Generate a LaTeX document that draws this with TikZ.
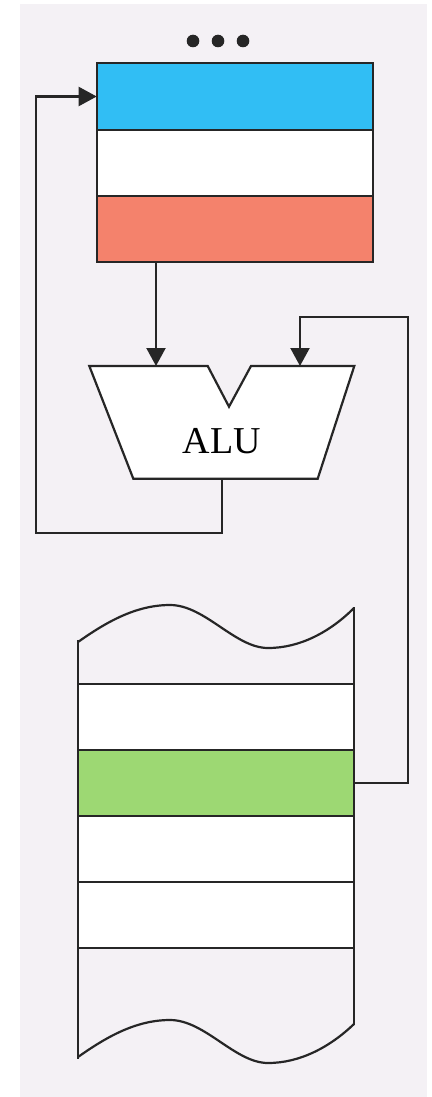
\documentclass[tikz,border=0pt]{standalone}
\usepackage{fontspec}
\setmainfont{Liberation Serif}
\usetikzlibrary{arrows.meta}
\definecolor{bgc}{HTML}{F4F1F5}
\definecolor{linec}{HTML}{262626}
\definecolor{regblue}{HTML}{31BEF4}
\definecolor{regred}{HTML}{F4826C}
\definecolor{memgreen}{HTML}{9DD873}
\tikzset{
  cell/.style={draw=linec, line width=2.2pt, fill=white, minimum width=276pt, minimum height=66pt, inner sep=0pt, outer sep=0pt},
  wire/.style={draw=linec, line width=2.2pt},
  arrowwire/.style={wire, -{Triangle[length=18pt,width=19pt]}},
}
\begin{document}
\begin{tikzpicture}[x=1pt,y=-1pt,line join=miter]
\useasboundingbox (0,0) rectangle (431,1097);
\fill[white] (0,0) rectangle (431,1097);
\fill[bgc] (20,4) rectangle (427,1097);

% dots
\fill[linec] (193,41) circle (6.3pt);
\fill[linec] (218,41) circle (6.3pt);
\fill[linec] (243,41) circle (6.3pt);

% registers
\node[cell, fill=regblue, minimum height=67pt] (r1) at (234.7,96.5) {};
\node[cell] (r2) at (234.7,163) {};
\node[cell, fill=regred] (r3) at (234.7,229) {};

% ALU
\draw[wire, fill=white] (89.3,366) -- (207.7,366) -- (229,406.7) -- (251,366) -- (354.3,366) -- (317.7,478.7) -- (133.3,478.7) -- cycle;
\node[inner sep=0pt, font=\fontsize{38}{40}\selectfont] (alu) at (222,441) {ALU};
\coordinate (aluInL) at (156,366);
\coordinate (aluInR) at (300,366);
\coordinate (aluOut) at (222,478.7);
\coordinate (loopL) at (36,533);
\coordinate (loopR) at (408,317);

% memory rows
\node[cell] (m1) at (216,717) {};
\node[cell, fill=memgreen] (m2) at (216,783) {};
\node[cell] (m3) at (216,849) {};
\node[cell] (m4) at (216,915) {};

% memory outline
\draw[wire] (78,642) .. controls (105,623) and (135,605) .. (170,605)
  .. controls (205,605) and (235,648) .. (268,648)
  .. controls (300,648) and (330,632) .. (354,608);
\draw[wire] (78,1057) .. controls (105,1038) and (135,1020) .. (170,1020)
  .. controls (205,1020) and (235,1063) .. (268,1063)
  .. controls (300,1063) and (330,1047) .. (354,1024);
\draw[wire] (78,640) -- (78,1059);
\draw[wire] (354,607) -- (354,1025);

% connectors
\draw[arrowwire] (r3.south -| aluInL) -- (aluInL);
\draw[arrowwire] (aluOut) |- (loopL) |- (r1.west);
\draw[arrowwire] (m2.east) -| (loopR) -| (aluInR);
\end{tikzpicture}
\end{document}
